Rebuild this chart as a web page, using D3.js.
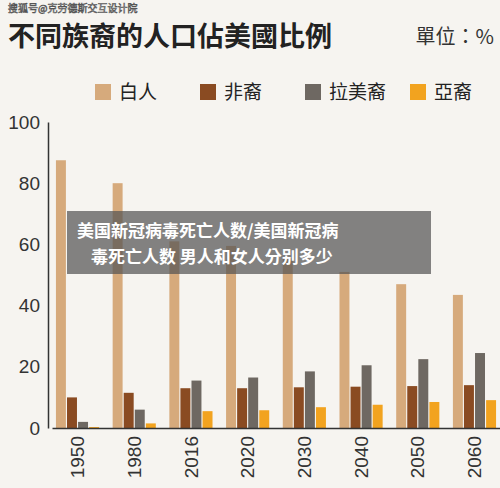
<!DOCTYPE html>
<html><head><meta charset="utf-8">
<script src="https://cdn.jsdelivr.net/npm/d3@7"></script>
<style>body{margin:0;background:#f6f4f0;font-family:"Noto Sans CJK TC","Noto Sans",sans-serif}</style>
</head><body>
<svg id="chart" width="500" height="488"></svg>
<script>
const years = ["1950","1980","2016","2020","2030","2040","2050","2060"];
const seriesNames = ["白人","非裔","拉美裔","亞裔"];
const colors = ["#d6aa7c","#8a4b22","#6e6862","#f2a31f"];
const white = [87.5, 80, 61, 59.5, 55.5, 51, 47, 43.5];
const black = [10, 11.5, 13, 13, 13.3, 13.5, 13.7, 14];
const hispanic = [2, 6, 15.5, 16.5, 18.5, 20.5, 22.5, 24.5];
const asian = [0.3, 1.5, 5.5, 5.8, 6.8, 7.6, 8.5, 9.1];
const yTicks = [0, 20, 40, 60, 80, 100];
const series = [white, black, hispanic, asian];

const svg = d3.select("#chart");
svg.append("rect").attr("width",500).attr("height",488).attr("fill","#f6f4f0");

// 標題
svg.append("text").attr("x",8).attr("y",46).attr("font-size",27).attr("font-weight","bold")
  .attr("fill","#222").text("不同族裔的人口佔美國比例");
svg.append("text").attr("x",494).attr("y",44).attr("font-size",20).attr("text-anchor","end")
  .attr("fill","#333").text("單位：%");
svg.append("text").attr("x",8).attr("y",12).attr("font-size",10).attr("fill","#fff")
  .attr("stroke","#555").attr("stroke-width",0.6).text("搜狐号@克劳德斯交互设计院");

// 圖例
const legX = [95, 200, 305, 410];
seriesNames.forEach((n,i) => {
  svg.append("rect").attr("x",legX[i]).attr("y",84).attr("width",16).attr("height",16).attr("fill",colors[i]);
  svg.append("text").attr("x",legX[i]+24).attr("y",99).attr("font-size",19).attr("fill","#222").text(n);
});

const x = d3.scaleBand().domain(years).range([52, 500]).paddingInner(0.2).paddingOuter(0.05);
const y = d3.scaleLinear().domain([0, 100]).range([428, 122]);
const xs = d3.scaleBand().domain(d3.range(4)).range([0, x.bandwidth()]).padding(0.1);

const g = svg.append("g");
series.forEach((vals, s) => {
  g.selectAll(null).data(vals).enter().append("rect")
    .attr("x", (d,i) => x(years[i]) + xs(s))
    .attr("y", d => y(d))
    .attr("width", xs.bandwidth())
    .attr("height", d => y(0) - y(d))
    .attr("fill", colors[s]);
});

const ya = svg.append("g").attr("transform","translate(48,0)")
  .call(d3.axisLeft(y).tickValues(yTicks).tickSize(0).tickPadding(8));
ya.select(".domain").attr("stroke","#333").attr("stroke-width",1.5);
ya.selectAll("text").attr("font-size",19).attr("fill","#333").attr("font-family","Liberation Sans, sans-serif");

const xa = svg.append("g").attr("transform","translate(0,428)")
  .call(d3.axisBottom(x).tickSize(0));
xa.select(".domain").attr("stroke","#333").attr("stroke-width",1.5);
xa.selectAll("text").attr("font-size",19).attr("fill","#333").attr("font-family","Liberation Sans, sans-serif")
  .attr("transform","rotate(-90)").attr("text-anchor","end").attr("dx","-8").attr("dy","0.35em")
  .attr("x",0).attr("y",0);

// 浮水印
svg.append("rect").attr("x",67).attr("y",211).attr("width",364).attr("height",63)
  .attr("fill","#555").attr("opacity",0.72);
svg.append("text").attr("x",77).attr("y",237).attr("font-size",17).attr("font-weight","bold")
  .attr("fill","#fff").text("美国新冠病毒死亡人数/美国新冠病");
svg.append("text").attr("x",91).attr("y",263).attr("font-size",17).attr("font-weight","bold")
  .attr("fill","#fff").text("毒死亡人数 男人和女人分别多少");
</script>
</body></html>
